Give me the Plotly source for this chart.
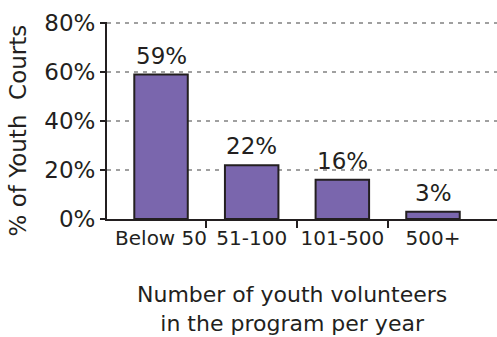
import plotly.graph_objects as go

# Survey data: share of youth courts by number of youth volunteers per year
categories = ["Below 50", "51-100", "101-500", "500+"]
shares = [59, 22, 16, 3]
y_ticks = [0, 20, 40, 60, 80]

FONT = "DejaVu Sans"
INK = "#231f20"
BAR = "#7a66ad"

xpos = list(range(len(categories)))

fig = go.Figure()
fig.add_trace(go.Bar(
    x=xpos,
    y=shares,
    width=0.59,
    marker=dict(color=BAR, line=dict(color=INK, width=2)),
    hoverinfo="skip",
))

# value labels above each bar
for xi, v in zip(xpos, shares):
    fig.add_annotation(
        x=xi, y=v, text=f"{v}%", showarrow=False,
        xref="x", yref="y", yanchor="bottom", yshift=4,
        font=dict(family=FONT, size=23, color=INK),
    )

# axis titles
fig.add_annotation(
    text="% of Youth  Courts", textangle=-90, showarrow=False,
    xref="paper", yref="paper", x=-0.228, y=0.45,
    xanchor="center", yanchor="middle",
    font=dict(family=FONT, size=23, color=INK),
)
fig.add_annotation(
    text="Number of youth volunteers<br>in the program per year",
    showarrow=False, xref="paper", yref="paper",
    x=0.474, y=-0.455, xanchor="center", yanchor="middle",
    font=dict(family=FONT, size=22, color=INK),
)

fig.update_layout(
    width=497, height=337,
    margin=dict(l=107, r=0, t=22, b=118, autoexpand=False),
    paper_bgcolor="white", plot_bgcolor="white",
    showlegend=False,
    font=dict(family=FONT, size=22, color=INK),
    xaxis=dict(
        range=[-0.596, 3.706],
        tickmode="array", tickvals=xpos, ticktext=categories,
        ticks="", showgrid=False, zeroline=False,
        showline=True, linecolor=INK, linewidth=2,
        tickangle=0, automargin=False,
        tickfont=dict(family=FONT, size=20, color=INK),
        minor=dict(tickmode="array", tickvals=[0.5, 1.5, 2.5],
                   ticks="outside", ticklen=7, tickwidth=2,
                   tickcolor=INK, showgrid=False),
        fixedrange=True,
    ),
    yaxis=dict(
        range=[0, 80.5],
        tickmode="array", tickvals=y_ticks,
        ticktext=[f"{t}%" for t in y_ticks],
        ticks="outside", ticklen=5, tickwidth=2, tickcolor=INK,
        showline=True, linecolor=INK, linewidth=2,
        showgrid=True, gridcolor="#a0a0a0", gridwidth=1.5,
        griddash="4px,5px", zeroline=False, automargin=False,
        tickfont=dict(family=FONT, size=23, color=INK),
        fixedrange=True,
    ),
)

fig.write_html("out.html", config={"displayModeBar": False})
